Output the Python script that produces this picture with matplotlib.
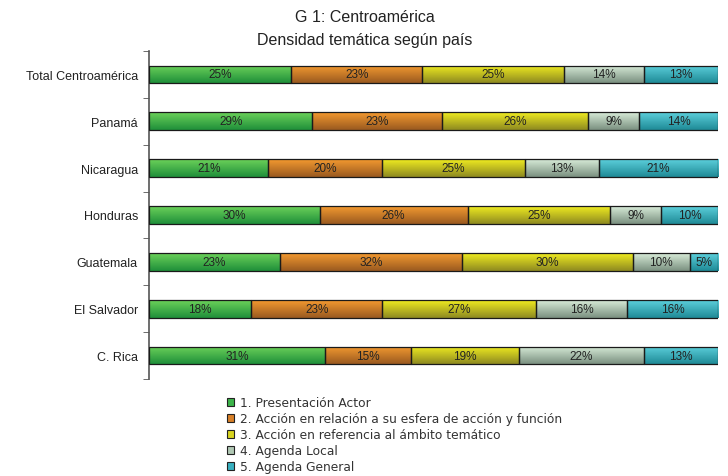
import matplotlib
matplotlib.use("Agg")
import matplotlib.pyplot as plt
import numpy as np
from matplotlib.patches import Patch
from matplotlib.colors import LinearSegmentedColormap

countries = ["Total Centroamérica", "Panamá", "Nicaragua", "Honduras",
             "Guatemala", "El Salvador", "C. Rica"]
series_names = ["1. Presentación Actor",
                "2. Acción en relación a su esfera de acción y función",
                "3. Acción en referencia al ámbito temático",
                "4. Agenda Local",
                "5. Agenda General"]
presentacion = [25, 29, 21, 30, 23, 18, 31]
accion_esfera = [23, 23, 20, 26, 32, 23, 15]
accion_ambito = [25, 26, 25, 25, 30, 27, 19]
agenda_local = [14, 9, 13, 9, 10, 16, 22]
agenda_general = [13, 14, 21, 10, 5, 16, 13]

series = [presentacion, accion_esfera, accion_ambito, agenda_local, agenda_general]
# (top, bottom) gradient colours
colors = [("#6cd25a", "#1f8f3a"),
          ("#f49a30", "#9a5a20"),
          ("#f0ec20", "#8e8a20"),
          ("#d8ecd8", "#7a9080"),
          ("#5cd0dc", "#1f8a96")]
mid_colors = ["#3cb44a", "#d88028", "#d8d420", "#b0c8b4", "#38b0c0"]

fig = plt.figure(figsize=(7.28, 4.77), dpi=100)
ax = fig.add_axes([149/728, 1-380/477, 569/728, 328/477])

data = np.array(series, dtype=float)
totals = data.sum(axis=0)
pct = data / totals * 100
y = np.arange(len(countries))
left = np.zeros(len(countries))
bar_h = 0.38
for i in range(len(series)):
    bars = ax.barh(y, pct[i], left=left, height=bar_h, color=mid_colors[i],
                   edgecolor="#1a1a1a", linewidth=0.9, zorder=2)
    cmap = LinearSegmentedColormap.from_list("g%d" % i, [colors[i][0], colors[i][1]])
    grad = np.linspace(0, 1, 64).reshape(-1, 1)
    for b, v, l in zip(bars, series[i], left):
        x0, y0 = b.get_x(), b.get_y()
        w, h = b.get_width(), b.get_height()
        im = ax.imshow(grad, cmap=cmap, aspect="auto",
                       extent=(x0, x0 + w, y0 + h, y0), origin="upper",
                       zorder=2.5, interpolation="bilinear")
        im.set_clip_path(b)
        ax.text(x0 + w / 2, y0 + h / 2, f"{v}%", ha="center", va="center",
                fontsize=8.5, color="#222222", family="Liberation Sans",
                zorder=4)
        b.set_facecolor("none")
        b.set_zorder(3)
    left = left + pct[i]

ax.set_xlim(0, 100)
ax.set_ylim(len(countries) - 0.5, -0.5)
ax.set_yticks(y)
ax.set_yticklabels(countries, family="Liberation Sans", fontsize=9, color="#222222")
ax.set_yticks(np.arange(-0.5, len(countries), 1), minor=True)
ax.tick_params(axis="y", which="major", length=0, pad=8)
ax.tick_params(axis="y", which="minor", length=4, color="#555555", direction="out")
ax.set_xticks([])
for s in ["top", "right", "bottom"]:
    ax.spines[s].set_visible(False)
ax.spines["left"].set_color("#555555")
ax.spines["left"].set_linewidth(1.2)

fig.text(365/728, 1-17/477, "G 1: Centroamérica", ha="center", va="center",
         fontsize=11.5, family="Liberation Sans", color="#222222")
fig.text(365/728, 1-40/477, "Densidad temática según país", ha="center", va="center",
         fontsize=11.5, family="Liberation Sans", color="#222222")

handles = [Patch(facecolor=mid_colors[i], edgecolor="#222222", linewidth=0.8)
           for i in range(len(series))]
leg = fig.legend(handles, series_names, loc="upper left",
                 bbox_to_anchor=(227/728, 1-397/477), frameon=False,
                 handlelength=0.6, handleheight=0.6,
                 handletextpad=0.45, labelspacing=0.25, borderaxespad=0,
                 borderpad=0,
                 prop={"family": "DejaVu Sans", "size": 8.8})
for t in leg.get_texts():
    t.set_color("#333333")

fig.savefig("out.png", dpi=100)
